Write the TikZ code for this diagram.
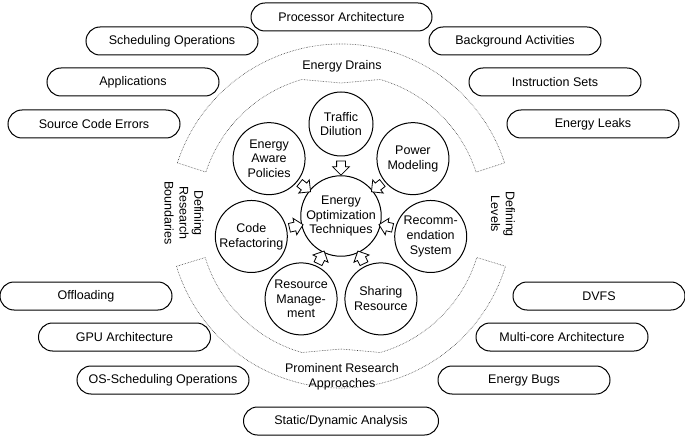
\documentclass[tikz,border=0pt]{standalone}
\usepackage{fontspec}
\setmainfont{Liberation Sans}
\usetikzlibrary{shapes.arrows,calc}
\begin{document}
\begin{tikzpicture}[x=1pt,y=1pt,
 font=\fontsize{12.5pt}{14.8pt}\selectfont,
 pill/.style={draw, line width=1pt, rounded corners=14pt, minimum width=172pt, minimum height=28pt, inner sep=0pt},
 circ/.style={draw, circle, line width=1pt, minimum size=72pt, inner sep=0pt, align=center},
 barrow/.style={draw, fill=white, line width=0.8pt, single arrow, minimum height=14pt, inner xsep=0pt, inner ysep=4pt, single arrow head extend=4pt, sloped, allow upside down},
 band/.style={draw=black!75, densely dotted, line width=0.6pt},
 lbl/.style={align=center, inner sep=0pt}
]
\useasboundingbox (0,0) rectangle (685,437);
\coordinate (C) at (341,221);
% outer pill boxes
\node[pill, minimum width=181pt] (p1) at (341.5,420) {Processor Architecture};
\node[pill] (p2) at (172,396) {Scheduling Operations};
\node[pill] (p3) at (515,396) {Background Activities};
\node[pill] (p4) at (133,355) {Applications};
\node[pill] (p5) at (555,355) {Instruction Sets};
\node[pill] (p6) at (94,313) {Source Code Errors};
\node[pill] (p7) at (593,313) {Energy Leaks};
\node[pill] (p8) at (86,141) {Offloading};
\node[pill] (p9) at (599,141) {DVFS};
\node[pill] (p10) at (124.5,100) {GPU Architecture};
\node[pill] (p11) at (562,100) {Multi-core Architecture};
\node[pill] (p12) at (163,57) {OS-Scheduling Operations};
\node[pill] (p13) at (524,57) {Energy Bugs};
\node[pill, minimum width=195pt] (p14) at (341,16) {Static/Dynamic Analysis};
% dotted bands
\draw[band] ($(C)+(162:172)$) arc[start angle=162, end angle=18, radius=172]
  -- ($(C)+(18:142)$) arc[start angle=18, end angle=74, radius=142]
  -- ($(C)+(90:133)$) -- ($(C)+(106:142)$) arc[start angle=106, end angle=162, radius=142] -- cycle;
\draw[band] ($(C)+(197:172)$) arc[start angle=197, end angle=343, radius=172]
  -- ($(C)+(343:142)$) arc[start angle=343, end angle=286, radius=142]
  -- ($(C)+(270:133)$) -- ($(C)+(254:142)$) arc[start angle=254, end angle=197, radius=142] -- cycle;
% labels
\node[lbl] (ed) at (342,371) {Energy Drains};
\node[lbl] (pra) at (342,60) {Prominent Research\\Approaches};
\node[lbl, rotate=-90] (drb) at (184,224) {Defining\\Research\\Boundaries};
\node[lbl, rotate=-90] (dl) at (503,223) {Defining\\Levels};
% circles
\node[circ, minimum size=78pt] (eo) at (C) {Energy\\Optimization\\Techniques};
\node[circ, minimum size=64pt] (td) at ($(C)+(90:92)$) {Traffic\\Dilution};
\node[circ] (eap) at ($(C)+(141.43:92)$) {Energy\\Aware\\Policies};
\node[circ] (cr) at ($(C)+(192.86:92)$) {Code\\Refactoring};
\node[circ] (rm) at ($(C)+(244.29:92)$) {Resource\\Manage-\\ment};
\node[circ] (sr) at ($(C)+(295.71:92)$) {Sharing\\Resource};
\node[circ] (rs) at ($(C)+(347.14:92)$) {Recomm-\\endation\\System};
\node[circ] (pm) at ($(C)+(38.57:92)$) {Power\\Modeling};
% block arrows
\foreach \n in {td,eap,cr,rm,sr,rs,pm}
  \path (\n) -- (eo) node[barrow, pos=0.5] {};
\end{tikzpicture}
\end{document}
